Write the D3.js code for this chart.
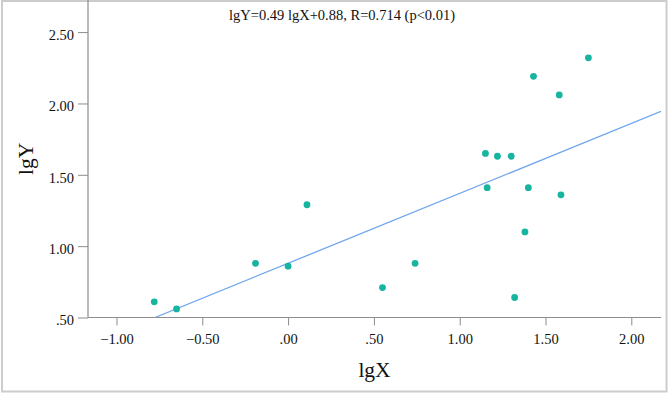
<!DOCTYPE html>
<html>
<head>
<meta charset="utf-8">
<script src="https://cdn.jsdelivr.net/npm/d3@7"></script>
<style>
  html, body { margin: 0; padding: 0; background: #fff; }
  svg { display: block; }
</style>
</head>
<body>
<svg id="chart" width="669" height="395"></svg>
<script>
// ---- data ----
const lgX = [-0.78, -0.65, -0.19, 0.00, 0.11, 0.55, 0.74, 1.32, 1.38, 1.59, 1.16, 1.40, 1.15, 1.22, 1.30, 1.43, 1.58, 1.75];
const lgY = [0.61, 0.56, 0.88, 0.86, 1.29, 0.71, 0.88, 0.64, 1.10, 1.36, 1.41, 1.41, 1.65, 1.63, 1.63, 2.19, 2.06, 2.32];
const xTicks = [-1.0, -0.5, 0.0, 0.5, 1.0, 1.5, 2.0];
const yTicks = [0.5, 1.0, 1.5, 2.0, 2.5];
const slope = 0.49, intercept = 0.88;
const title = "lgY=0.49 lgX+0.88, R=0.714 (p<0.01)";
const xTitle = "lgX", yTitle = "lgY";

// ---- layout ----
const W = 669, H = 395;
const plot = { left: 88, right: 661, top: 0, bottom: 317.5 };
const svg = d3.select("#chart");
const font = "'Liberation Serif', 'Times New Roman', serif";

const x = d3.scaleLinear().domain([-1.166, 2.173]).range([plot.left, plot.right]);
const y = d3.scaleLinear().domain([0.5, 2.725]).range([plot.bottom, plot.top]);

// outer frame
svg.append("rect").attr("x", 2).attr("y", 1).attr("width", 664.5).attr("height", 390.5)
  .attr("fill", "none").attr("stroke", "#cccccc").attr("stroke-width", 2);

// axes
const fmt = d => d3.format(".2f")(d).replace(/^(-?)0\./, "$1.");
const xAxis = d3.axisBottom(x).tickValues(xTicks).tickFormat(fmt).tickSizeOuter(0).tickSize(8).tickPadding(5);
const yAxis = d3.axisLeft(y).tickValues(yTicks).tickFormat(fmt).tickSizeOuter(0).tickSize(10).tickPadding(4);

const gx = svg.append("g").attr("transform", `translate(0,${plot.bottom})`).call(xAxis);
const gy = svg.append("g").attr("transform", `translate(${plot.left},0)`).call(yAxis);
[gx, gy].forEach(g => {
  g.select(".domain").attr("stroke", "#8c8c8c").attr("stroke-width", 1.2);
  g.selectAll(".tick line").attr("stroke", "#8c8c8c").attr("stroke-width", 1);
  g.selectAll(".tick text").attr("fill", "#111").style("font-family", font).style("font-size", "14.5px");
});
gy.select(".domain").attr("d", `M0,${plot.bottom}V${plot.top}`);
gx.select(".domain").attr("d", `M${plot.left},0H${plot.right}`);
gx.selectAll(".tick text").attr("dy", "0.95em");
gy.selectAll(".tick text").attr("dy", "0.5em");

// regression line (clipped to plot)
svg.append("clipPath").attr("id", "clip").append("rect")
  .attr("x", plot.left).attr("y", plot.top).attr("width", plot.right - plot.left).attr("height", plot.bottom - plot.top);
const x0 = (0.5 - intercept) / slope, x1 = x.domain()[1];
svg.append("line").attr("clip-path", "url(#clip)")
  .attr("x1", x(x0)).attr("y1", y(slope * x0 + intercept))
  .attr("x2", x(x1)).attr("y2", y(slope * x1 + intercept))
  .attr("stroke", "#6fa5ee").attr("stroke-width", 1.3);

// points
svg.append("g").selectAll("circle").data(lgX.map((v, i) => [v, lgY[i]])).join("circle")
  .attr("cx", d => x(d[0])).attr("cy", d => y(d[1])).attr("r", 3.4)
  .attr("fill", "#17b4a0");

// titles
svg.append("text").attr("x", 229).attr("y", 20).text(title)
  .style("font-family", font).style("font-size", "14.5px").attr("fill", "#111");
svg.append("text").attr("x", (plot.left + plot.right) / 2).attr("y", 377).attr("text-anchor", "middle")
  .text(xTitle).style("font-family", font).style("font-size", "21.5px").attr("fill", "#111");
svg.append("text").attr("transform", `translate(33,${(plot.top + plot.bottom) / 2}) rotate(-90)`)
  .attr("text-anchor", "middle").text(yTitle)
  .style("font-family", font).style("font-size", "21.5px").attr("fill", "#111");
</script>
</body>
</html>
